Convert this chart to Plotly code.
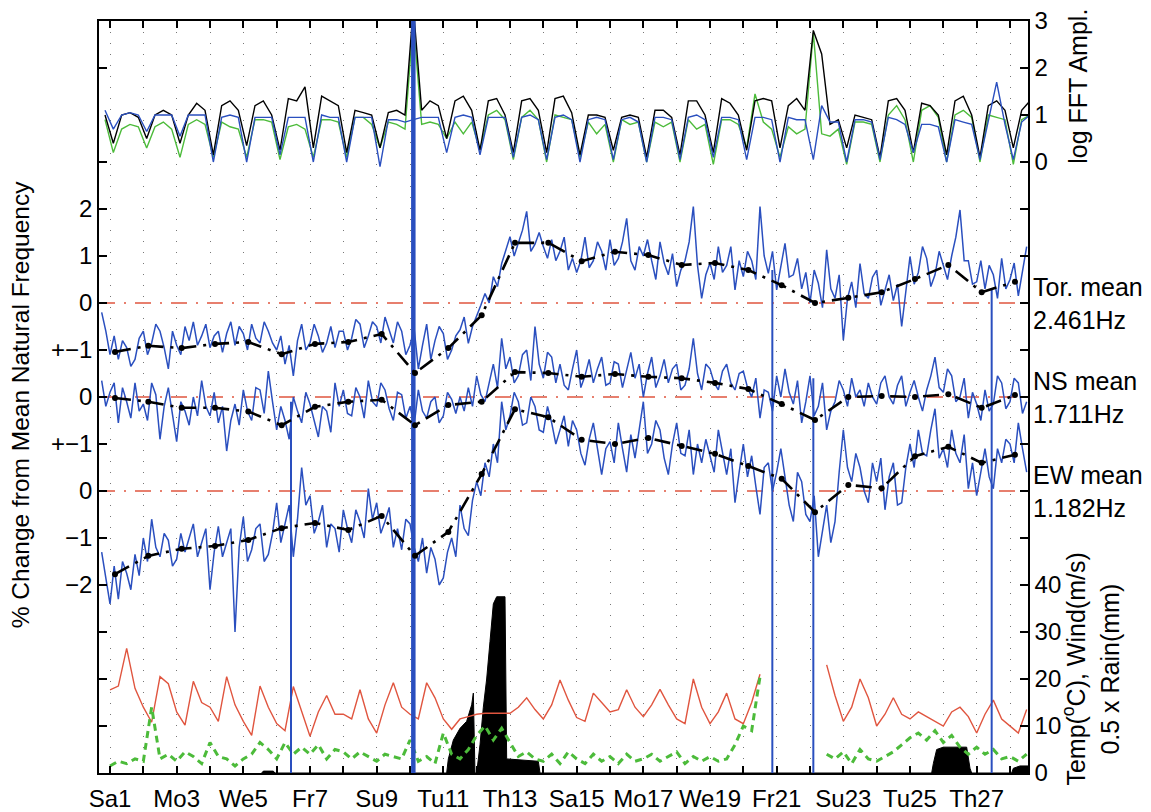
import numpy as np
import plotly.graph_objects as go

# ---------------- data ----------------
day_labels = {1: "Sa1", 3: "Mo3", 5: "We5", 7: "Fr7", 9: "Su9", 11: "Tu11", 13: "Th13",
              15: "Sa15", 17: "Mo17", 19: "We19", 21: "Fr21", 23: "Su23", 25: "Tu25", 27: "Th27"}

# % change series, sampled every 0.125 day from day 0.75 (one row per day)
freq_start, freq_step = 0.75, 0.125
tor = [-0.2, -0.6,
       -1.1, -0.7, -1.2, -0.8, -0.95, -1.35, -1.2, -0.75,
       -0.6, -1.1, -0.85, -0.45, -0.6, -0.95, -1.4, -0.6,
       -0.9, -1.1, -0.5, -0.8, -0.4, -0.9, -0.7, -0.45,
       -0.95, -0.7, -0.6, -1.05, -0.65, -0.4, -0.9, -0.5,
       -0.65, -1.0, -0.45, -0.75, -0.85, -0.4, -0.6, -0.85,
       -1.0, -0.7, -1.3, -0.9, -1.55, -0.8, -0.45, -1.0,
       -0.85, -0.45, -0.7, -1.05, -0.85, -0.5, -0.95, -0.6,
       -0.6, -1.0, -0.75, -0.35, -0.45, -0.95, -0.7, -0.4,
       -0.5, -0.85, -0.3, -0.6, -0.85, -0.4, -0.6, -1.1,
       -0.9, -0.55, -1.4, -0.9, -0.45, -1.2, -0.8, -0.5,
       -0.65, -1.2, -1.0, -0.7, -0.57, -0.3, -0.86, -0.5,
       -0.29, -0.05, 0.2, 0.0, 0.56, 0.35, 0.84, 1.15,
       1.41, 1.0, 1.3, 1.55, 1.95, 1.1, 1.25, 1.5,
       1.2, 0.95, 1.35, 0.9, 1.1, 1.4, 0.7, 0.95,
       0.65, 0.9, 1.4, 0.75, 0.9, 1.3, 1.1, 0.7,
       1.35, 0.8, 0.95, 1.3, 1.8, 0.9, 0.7, 1.2,
       1.0, 1.35, 0.9, 0.5, 1.3, 0.85, 0.6, 1.05,
       0.35, 0.7, 0.9, 1.3, 2.05, 0.8, 0.1, 0.6,
       0.85, 0.5, 1.2, 0.65, 0.8, 1.2, 0.28, 0.9,
       0.56, 1.1, 0.9, 0.5, 2.05, 1.0, 0.63, 1.1,
       0.28, 0.8, 1.27, 0.55, 0.6, 0.95, 0.3, 0.65,
       0.0, 0.7, 0.42, -0.1, 1.13, 0.3, 0.1, 0.6,
       -0.79, 0.1, 0.45, -0.1, 0.84, 0.2, 0.1, 0.55,
       0.7, -0.05, 0.3, 0.6, 0.05, 0.4, -0.5, 0.3,
       0.99, 0.4, 0.65, 1.2, 0.95, 0.35, 0.6, 1.1,
       0.8, 0.5, 1.0, 1.4, 1.98, 0.9, 0.9, 0.4,
       0.45, 0.9, 0.3, 0.8, 0.6, 0.1, 0.95, 0.3,
       0.5, 0.85, 0.15, 0.7, 1.2]
ns = [0.35, -0.2,
      0.1, 0.3, -0.55, 0.2, -0.1, -0.45, 0.3, -0.3,
      -0.15, -0.5, 0.3, 0.05, -0.9, -0.2, 0.2, -0.4,
      -0.95, -0.1, -0.3, -0.6, 0.0, -0.4, 0.35, -0.2,
      -0.4, 0.1, -0.55, -0.2, -1.15, -0.5, -0.15, -0.6,
      0.15, -0.3, -0.5, 0.2, 0.15, -0.35, 0.55, -0.1,
      -0.7, -0.2, -0.5, -0.9, 0.0, -0.3, -0.55, 0.1,
      -0.15, -0.5, -0.85, -0.2, -0.3, -0.75, 0.3, -0.2,
      0.15, -0.35, -0.4, 0.2, 0.0, -0.45, 0.35, -0.1,
      -0.2, 0.3, 0.15, -0.25, -0.5, 0.1, 0.05, -0.45,
      -0.2, -0.6, 0.15, -0.3, -0.45, -0.1, 0.0, -0.55,
      -0.4, 0.1, -0.05, -0.35, 0.0, -0.3, 0.2, -0.2,
      0.45, 0.05, -0.1, 0.3, 0.7, 0.2, 1.25, 0.6,
      0.85, 0.3, 0.45, 0.9, 1.0, 0.35, 1.5, 0.7,
      0.4, 0.95, 0.85, 0.3, 0.7, 0.25, 0.15, 0.6,
      1.0, 0.2, 0.45, 0.8, 0.3, 0.6, 0.85, 0.25,
      0.3, 0.75, 0.7, 0.2, 0.6, 0.95, 0.4, 0.7,
      0.0, 0.5, 0.85, 0.2, 0.45, 0.8, 0.3, 0.6,
      0.7, 0.15, 0.25, 0.6, 1.25, 0.5, 0.15, 0.7,
      0.6, 0.3, 0.15, 0.55, 0.7, 0.3, 0.15, 0.5,
      0.55, 0.2, 0.0, 0.4, -0.45, 0.15, 0.1, -0.3,
      0.45, 0.0, 0.6, 0.1, -0.15, 0.35, -0.55, -0.1,
      0.45, -0.4, -0.2, 0.3, -0.7, -0.3, -0.1, 0.35,
      0.15, -0.2, 0.4, 0.0, 0.15, -0.2, 0.3, 0.0,
      -0.15, 0.3, 0.45, 0.0, -0.15, 0.25, 0.45, -0.2,
      0.1, 0.35, 0.0, -0.3, 0.15, 0.45, 0.85, 0.2,
      0.1, 0.6, 0.45, -0.1, 0.0, 0.4, -0.45, 0.1,
      -0.15, -0.5, 0.15, -0.3, -0.15, 0.45, 0.3, -0.25,
      -0.1, 0.4, 0.3, -0.35, -0.1]
ew = [-1.3, -1.9,
      -2.4, -1.6, -2.3, -1.5, -1.75, -2.1, -1.35, -1.8,
      -1.0, -1.5, -0.6, -1.2, -1.4, -0.9, -1.05, -1.6,
      -1.45, -0.9, -1.3, -1.0, -0.7, -1.4, -1.1, -0.8,
      -2.1, -1.3, -0.75, -1.4, -1.1, -0.8, -3.0, -1.2,
      -0.55, -1.5, -1.25, -0.8, -0.7, -1.5, -1.35, -0.9,
      -0.25, -1.1, -0.7, -0.3, -1.4, -0.6, 0.5, -0.3,
      -0.1, -0.9, -0.65, -0.3, -1.2, -0.7, -0.8, -1.3,
      -0.4, -0.8, -1.1, -0.4, -0.65, -1.0, 0.05, -0.6,
      -0.25, -0.9, -0.65, -0.35, -1.2, -0.8, -1.25, -0.6,
      -0.7, -1.2, -1.5, -1.0, -1.75, -1.2, -1.45, -2.0,
      -1.85, -1.3, -1.0, -1.4, -0.3, -0.8, -0.95, -0.2,
      0.2, -0.1, 0.6, 0.3, 1.0, 0.6, 1.9, 1.3,
      1.6, 2.1, 1.9, 1.4, 1.45, 2.0, 1.8, 1.3,
      1.25, 1.8, 1.45, 1.0, 1.3, 1.6, 0.95, 1.5,
      1.3, 0.8, 0.55, 1.1, 1.45, 0.9, 0.35, 0.9,
      1.05, 0.6, 1.45, 0.9, 0.4, 1.2, 0.7, 1.3,
      1.9, 0.8, 1.0, 1.5, 1.3, 0.7, 0.35, 1.0,
      1.45, 0.8, 0.75, 1.3, 0.35, 1.0, 0.6, 1.1,
      0.75, 0.4, 1.3, 0.8, 0.35, 0.9, -0.25, 0.4,
      1.0, 0.3, 0.75, 0.1, -0.5, 0.5, 0.6, 0.0,
      0.4, 0.9, 0.3, -0.3, -0.65, 0.4, 0.2, -0.5,
      -0.65, -0.1, -1.4, -0.8, -0.3, -1.1, -0.65, 0.4,
      1.3, 0.5, 0.2, 0.8, 0.5, 0.0, -0.25, 0.6,
      0.2, 0.7, -0.4, 0.3, 0.6, -0.3, -0.25, 0.5,
      1.0, 0.5, 1.3, 0.8, 0.75, 1.3, 1.75, 0.7,
      0.9, 0.5, 1.3, 0.8, 0.6, 1.2, 0.05, 0.6,
      -0.1, 0.4, 0.9, 0.3, 0.05, 0.9, 0.6, 1.1,
      1.0, 0.6, 1.45, 0.9, 0.4]

# daily trend nodes (dash-dot black), one per day from day 1.15
trend_start = 1.15
tor_trend = [-1.04, -0.91, -0.96, -0.87, -0.83, -1.09, -0.87, -0.83, -0.66, -1.49,
             -0.96, -0.26, 1.28, 1.28, 0.89, 1.09, 1.02, 0.81, 0.85, 0.70,
             0.38, 0.0, 0.11, 0.23, 0.51, 0.81, 0.23, 0.45]
ns_trend = [-0.02, -0.1, -0.23, -0.23, -0.31, -0.6, -0.21, -0.1, -0.06, -0.6,
            -0.17, -0.1, 0.53, 0.51, 0.43, 0.49, 0.43, 0.4, 0.3, 0.17,
            -0.15, -0.49, 0.0, 0.02, 0.0, 0.06, -0.23, 0.04]
ew_trend = [-1.77, -1.38, -1.23, -1.17, -1.04, -0.79, -0.68, -0.83, -0.53, -1.38,
            -0.87, 0.36, 1.74, 1.57, 1.09, 1.0, 1.13, 0.96, 0.79, 0.53,
            0.26, -0.45, 0.13, 0.06, 0.74, 0.94, 0.6, 0.77]

# log FFT amplitude, every 0.25 day from day 0.85
fft_start, fft_step = 0.85, 0.25
fft_black = [1.0,
             0.4, 1.0, 1.05, 0.95,  0.5, 1.0, 1.1, 1.0,   0.4, 1.0, 1.25, 1.1,
             0.15, 1.2, 1.3, 1.1,   0.35, 1.2, 1.3, 1.0,  0.25, 1.35, 1.3, 1.6,
             0.3, 1.4, 1.3, 1.2,    0.2, 1.1, 1.05, 1.0,  0.3, 1.05, 1.1, 1.0,
             3.3, 1.1, 1.3, 1.2,    0.5, 1.3, 1.4, 1.1,   0.25, 1.3, 1.35, 1.0,
             0.2, 1.3, 1.35, 1.1,   0.2, 1.35, 1.4, 1.05, 0.15, 1.0, 1.0, 0.95,
             0.25, 0.95, 1.0, 0.95, 0.1, 1.1, 1.1, 0.95,  0.15, 1.3, 1.3, 1.0,
             0.2, 1.35, 1.25, 1.0,  0.25, 1.3, 1.35, 1.3, 0.3, 1.2, 1.35, 1.1,
             2.8, 2.3, 0.8, 0.9,    0.3, 1.0, 0.95, 0.9,  0.1, 1.3, 1.35, 1.1,
             0.2, 1.25, 1.2, 1.0,   0.15, 1.3, 1.4, 1.0,  0.1, 1.2, 1.3, 1.1,
             0.3, 1.1, 1.3]
fft_blue = [1.1,
            0.7, 1.0, 1.05, 1.0,   0.65, 1.0, 1.0, 1.0,   0.55, 1.0, 1.0, 1.0,
            0.0, 0.95, 1.0, 0.95,  0.0, 0.95, 0.95, 0.95, 0.15, 0.95, 0.95, 0.95,
            0.0, 1.0, 0.95, 0.95,  0.0, 0.95, 0.95, 0.95, -0.1, 0.9, 0.9, 0.85,
            0.9, 0.95, 0.95, 0.95, 0.2, 0.95, 1.0, 0.95,  0.15, 0.95, 0.95, 0.95,
            0.1, 0.95, 1.0, 0.9,   0.05, 0.95, 1.0, 0.9,  0.0, 0.9, 0.95, 0.9,
            0.05, 0.9, 0.95, 0.85, 0.0, 0.95, 0.95, 0.9,  0.05, 0.95, 1.0, 0.9,
            0.1, 0.95, 0.95, 0.9,  0.05, 0.95, 0.95, 0.9, 0.0, 0.95, 0.9, 0.9,
            0.05, 1.2, 0.85, 0.85, 0.0, 0.9, 0.9, 0.85,   0.05, 0.95, 0.9, 0.8,
            0.2, 0.8, 0.8, 0.75,   0.0, 0.9, 0.85, 0.8,   0.05, 0.85, 1.7, 0.8,
            0.05, 0.85, 1.0]
fft_green = [0.9,
             0.2, 0.7, 0.8, 0.75,   0.3, 0.75, 0.85, 0.7,  0.1, 0.8, 0.9, 0.8,
             0.1, 0.85, 0.75, 0.7,  0.1, 0.9, 0.9, 0.85,   0.05, 0.75, 0.8, 0.7,
             0.1, 0.9, 0.9, 0.85,   0.1, 0.95, 0.95, 0.8,  0.3, 0.85, 0.8, 0.7,
             3.0, 0.8, 0.85, 0.8,   0.5, 0.85, 0.6, 0.85,  0.25, 1.0, 1.1, 0.9,
             0.05, 0.95, 1.1, 0.9,  0.0, 1.0, 0.95, 0.9,   0.1, 0.85, 0.6, 0.8,
             0.0, 0.9, 0.8, 0.85,   0.0, 0.85, 0.75, 0.85, 0.0, 0.9, 0.7, 0.8,
             -0.05, 0.9, 0.9, 0.8,  0.3, 1.45, 0.85, 0.7,  0.1, 0.75, 0.6, 0.7,
             2.75, 0.6, 0.55, 0.7,  -0.05, 0.85, 0.85, 0.8, 0.0, 1.0, 1.2, 0.9,
             0.0, 1.1, 1.2, 0.95,   0.0, 1.0, 1.1, 0.95,   0.0, 1.0, 0.95, 0.9,
             -0.05, 0.9, 1.0]

# weather, every 0.25 day from day 1.0 (None = no record)
wx_start, wx_step = 1.0, 0.25
temp_c = [17.7, 18.5, 26.5, 18.0,  14.0, 10.8, 20.5, 19.0,  13.0, 10.2, 19.5, 15.0,
          14.0, 11.0, 20.5, 14.5,  11.0, 8.0, 18.5, 14.0,   10.5, 9.0, 18.4, 13.0,
          7.8, 13.0, 16.5, 12.5,   12.5, 11.5, 17.7, 11.5,  8.5, 14.5, 19.2, 14.0,
          12.5, 11.5, 19.2, 16.0,  11.5, 9.3, 11.5, 12.0,   12.5, 12.7, 12.7, 12.7,
          12.7, 14.0, 16.0, 13.5,  11.5, 14.5, 19.8, 15.5,  11.8, 11.0, 17.0, 15.0,
          13.0, 13.5, 17.7, 14.0,  12.0, 14.5, 17.8, 14.5,  11.5, 10.5, 20.0, 14.0,
          10.5, 13.0, 17.0, 11.5,  10.5, 15.0, 21.0, None,  None, None, None, None,
          None, None, 23.0, 16.5,  11.0, 14.0, 20.0, 16.0,  10.0, 12.5, 16.0, 12.5,
          11.5, 13.0, 12.0, 11.0,  10.0, 13.0, 14.0, 12.0,  8.5, 12.5, 15.5, 11.5,
          10.0, 8.5, 13.5]
wind_ms = [1.5, 2.5, 2.0, 3.0,  2.5, 14.0, 3.0, 4.0,  2.5, 4.5, 3.5, 2.0,
           6.5, 3.5, 3.0, 1.5,  3.0, 4.0, 6.5, 5.0,   3.0, 6.5, 4.0, 5.5,
           4.0, 6.0, 3.0, 5.0,  4.5, 3.0, 4.5, 3.5,   2.5, 4.0, 3.5, 3.0,
           7.0, 2.5, 3.5, 2.0,  8.5, 4.0, 3.0, 5.0,   8.0, 10.0, 7.0, 9.5,
           6.5, 3.5, 4.5, 3.0,  2.5, 4.0, 2.0, 4.5,   3.0, 2.0, 4.0, 2.5,
           3.5, 2.0, 4.0, 2.5,  3.0, 4.0, 2.5, 3.5,   4.5, 2.0, 3.5, 2.5,
           3.5, 2.5, 3.0, 6.0,  10.0, 9.0, 20.5, None, None, None, None, None,
           None, None, 4.0, 3.0, 4.5, 2.0, 5.0, 3.0,  2.5, 3.5, 4.5, 6.0,
           7.5, 8.5, 7.0, 9.0,  6.5, 8.0, 5.5, 4.0,   5.5, 4.0, 5.0, 3.0,
           3.5, 2.5, 4.0]
rain_day = [5.55, 5.6, 5.9, 5.95,
            11.1, 11.15, 11.3, 11.5, 11.7, 11.85, 11.9, 11.95,
            12.0, 12.1, 12.2, 12.3, 12.4, 12.5, 12.6, 12.85, 12.9, 13.85, 13.9,
            25.65, 25.7, 25.8, 26.0, 26.7, 26.8, 26.85,
            28.05, 28.1, 28.3, 28.6]
rain_half_mm = [0, 0.4, 0.4, 0,
                0, 3, 7, 9.5, 11, 14.5, 17, 0,
                0, 6, 14, 20, 28, 36, 37.5, 37.5, 3, 2.5, 0,
                0, 2, 5, 5.5, 5.5, 1, 0,
                0, 1, 1.5, 1.5]

# sensor drop-outs (vertical blue lines): series, day, from value, to value
drop_series = ["NS", "FFT", "Tor", "EW", "Tor"]
drop_day = [6.43, 10.1, 20.87, 22.1, 27.45]
drop_from = [-0.1, 3.0, 0.7, 2.4, 0.3]
drop_to = [-8.0, -13.0, -10.0, -6.0, -10.0]
drop_width = [2, 4.5, 2, 2, 2]

panel_offset = {"FFT": 13, "Tor": 10, "NS": 8, "EW": 6}
wx_scale = 10.0
mean_labels = [("Tor", "Tor. mean<br>2.461Hz"), ("NS", "NS mean<br>1.711Hz"), ("EW", "EW mean<br>1.182Hz")]

# ---------------- figure ----------------
BLUE = "#2a4fbf"
GREEN = "#4cbb3a"
RED = "#e0553f"
FONT = "Liberation Sans, Arial, Helvetica, sans-serif"
TICK = 24

fig = go.Figure()

t_freq = freq_start + freq_step * np.arange(len(tor))
t_fft = fft_start + fft_step * np.arange(len(fft_black))
t_wx = wx_start + wx_step * np.arange(len(temp_c))
t_trend = trend_start + np.arange(len(tor_trend))

def shifted(vals, key):
    off = panel_offset[key]
    return [None if v is None else v + off for v in vals]

# zero reference lines
for key in ["Tor", "NS", "EW"]:
    fig.add_hline(y=panel_offset[key], line=dict(color=RED, width=1.6, dash="16px,9px,2px,9px"), layer="below")

# FFT lines
for vals, col in [(fft_green, GREEN), (fft_black, "black"), (fft_blue, BLUE)]:
    fig.add_trace(go.Scatter(x=t_fft, y=shifted(vals, "FFT"), mode="lines",
                             line=dict(color=col, width=1.4), showlegend=False))

# weather
fig.add_trace(go.Scatter(x=rain_day, y=[v / wx_scale for v in rain_half_mm], mode="lines",
                         fill="tozeroy", fillcolor="black", line=dict(color="black", width=1),
                         showlegend=False))
fig.add_trace(go.Scatter(x=t_wx, y=[None if v is None else v / wx_scale for v in temp_c], mode="lines",
                         line=dict(color=RED, width=1.4), showlegend=False))
fig.add_trace(go.Scatter(x=t_wx, y=[None if v is None else v / wx_scale for v in wind_ms], mode="lines",
                         line=dict(color=GREEN, width=3, dash="7px,5px"), showlegend=False))

# frequency-change series
for vals, key in [(tor, "Tor"), (ns, "NS"), (ew, "EW")]:
    fig.add_trace(go.Scatter(x=t_freq, y=shifted(vals, key), mode="lines",
                             line=dict(color=BLUE, width=1.5), showlegend=False))

# drop-outs
for s, d, a, b, w in zip(drop_series, drop_day, drop_from, drop_to, drop_width):
    off = panel_offset[s]
    fig.add_trace(go.Scatter(x=[d, d], y=[a + off, b + off], mode="lines",
                             line=dict(color=BLUE, width=w), showlegend=False))

# trends
for vals, key in [(tor_trend, "Tor"), (ns_trend, "NS"), (ew_trend, "EW")]:
    fig.add_trace(go.Scatter(x=t_trend, y=shifted(vals, key), mode="lines+markers",
                             line=dict(color="black", width=2.6, dash="16px,7px,3px,7px"),
                             marker=dict(color="black", size=6), showlegend=False))

# axes
xticks = list(range(1, 29))
xtext = [day_labels.get(d, "") for d in xticks]
left_vals = [1, 2, 3, 4, 5, 6, 7, 8, 9, 10, 11, 12, 13, 15]
left_text = ["", "", "", "\u22122", "\u22121", "0", "+\u22121", "0", "+\u22121", "0", "1", "2", "", ""]
right_vals = list(range(0, 17))
right_text = ["0", "10", "20", "30", "40"] + [""] * 8 + ["0", "1", "2", "3"]

fig.update_layout(
    width=1151, height=812,
    margin=dict(l=99, r=123, t=21, b=39),
    paper_bgcolor="white", plot_bgcolor="white",
    font=dict(family=FONT, size=TICK, color="black"),
    xaxis=dict(range=[0.67, 28.54], tickvals=xticks, ticktext=xtext, ticks="inside", ticklen=7,
               tickwidth=1.5, tickcolor="black", showline=True, linecolor="black", linewidth=1.5,
               mirror="ticks", showgrid=True, gridcolor="#777777", gridwidth=1, griddash="1px,10px",
               zeroline=False, tickfont=dict(size=TICK), ticklabelstandoff=3, automargin=False),
    yaxis=dict(range=[0, 16], tickvals=left_vals, ticktext=left_text, ticks="inside", ticklen=8,
               tickwidth=1.5, tickcolor="black", showline=True, linecolor="black", linewidth=1.5,
               showgrid=False, zeroline=False, tickfont=dict(size=TICK), automargin=False),
    yaxis2=dict(range=[0, 16], overlaying="y", side="right", tickvals=right_vals, ticktext=right_text,
                ticks="inside", ticklen=8, tickwidth=1.5, tickcolor="black", showline=True,
                linecolor="black", linewidth=1.5, showgrid=False, zeroline=False, tickfont=dict(size=TICK),
                automargin=False),
)
# dummy trace to activate right axis
fig.add_trace(go.Scatter(x=[None], y=[None], yaxis="y2", showlegend=False))

annos = []
for key, txt in mean_labels:
    annos.append(dict(x=1.0, xref="paper", xanchor="left", xshift=3, y=panel_offset[key], yref="y",
                      yanchor="middle", text=txt, showarrow=False, align="left", font=dict(size=25)))
annos.append(dict(x=(1078 - 99) / 929, xref="paper", xanchor="center", y=14.6, yref="y",
                  yanchor="middle", text="log FFT Ampl.", textangle=-90,
                  showarrow=False, font=dict(size=25)))
annos.append(dict(x=(1074 - 99) / 929, xref="paper", xanchor="center", y=2.2, yref="y",
                  yanchor="middle", text="Temp(<sup>o</sup>C), Wind(m/s)",
                  textangle=-90, showarrow=False, font=dict(size=25)))
annos.append(dict(x=(1110 - 99) / 929, xref="paper", xanchor="center", y=2.2, yref="y",
                  yanchor="middle", text="0.5 x Rain(mm)",
                  textangle=-90, showarrow=False, font=dict(size=25)))
annos.append(dict(x=(20 - 99) / 929, xref="paper", xanchor="center", y=0.489, yref="paper",
                  yanchor="middle", text="% Change from Mean Natural Frequency", textangle=-90,
                  showarrow=False, font=dict(size=24.5)))
fig.update_layout(annotations=annos)

fig.write_html("out.html")
